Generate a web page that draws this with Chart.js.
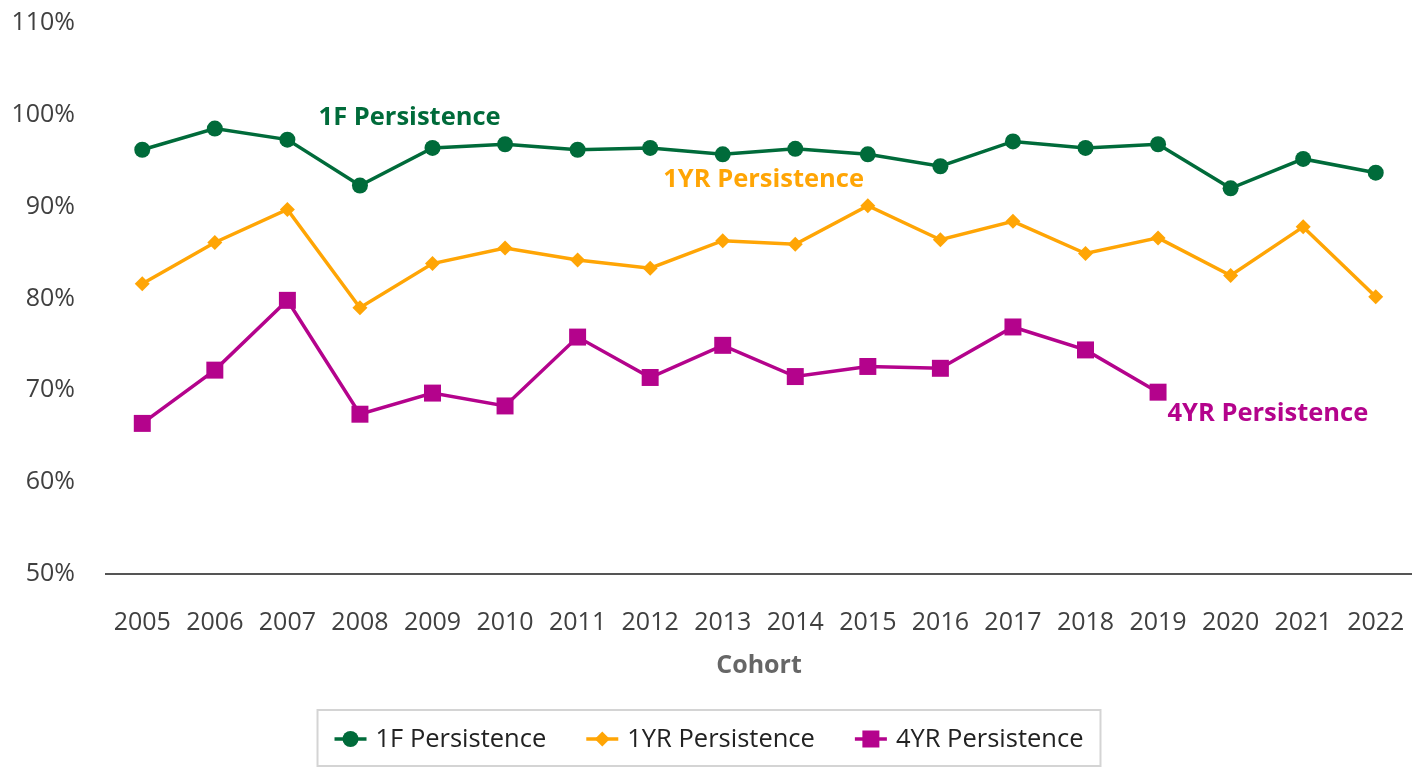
<!DOCTYPE html>
<html>
<head>
<meta charset="utf-8">
<script src="https://cdn.jsdelivr.net/npm/chart.js@4"></script>
<style>
  html, body { margin: 0; padding: 0; background: #fff; }
  #wrap { width: 1412px; height: 768px; position: relative; }
</style>
</head>
<body>
<div id="wrap"><canvas id="persistChart"></canvas></div>
<script>
// Cohort years
const cohorts = ['2005', '2006', '2007', '2008', '2009', '2010', '2011', '2012', '2013',
                 '2014', '2015', '2016', '2017', '2018', '2019', '2020', '2021', '2022'];

// Persistence rates (%)
const firstFall = [96.2, 98.5, 97.3, 92.3, 96.4, 96.8, 96.2, 96.4, 95.7,
                   96.3, 95.7, 94.4, 97.1, 96.4, 96.8, 92.0, 95.2, 93.7];
const oneYear = [81.6, 86.1, 89.7, 79.0, 83.8, 85.5, 84.2, 83.3, 86.3,
                 85.9, 90.1, 86.4, 88.4, 84.9, 86.6, 82.5, 87.8, 80.2];
const fourYear = [66.4, 72.2, 79.8, 67.4, 69.7, 68.3, 75.8, 71.4, 74.9,
                  71.5, 72.6, 72.4, 76.9, 74.4, 69.8, null, null, null];

const yTicks = [50, 60, 70, 80, 90, 100, 110];

const GREEN = '#006B3A';
const ORANGE = '#FFA505';
const MAGENTA = '#B4038C';
const FONT = '"Open Sans", sans-serif';

// in-chart series labels (x in category steps from the first cohort)
const seriesLabels = [
    { text: '1F Persistence', color: GREEN, x: 2.43, y: 99.7 },
    { text: '1YR Persistence', color: ORANGE, x: 7.18, y: 92.9 },
    { text: '4YR Persistence', color: MAGENTA, x: 14.13, y: 67.5 }
];

function drawMarker(ctx, shape, x, y) {
    ctx.beginPath();
    if (shape === 'circle') {
        ctx.arc(x, y, 8, 0, Math.PI * 2);
    } else if (shape === 'rectRot') {
        ctx.moveTo(x, y - 7.5); ctx.lineTo(x + 7.5, y); ctx.lineTo(x, y + 7.5); ctx.lineTo(x - 7.5, y); ctx.closePath();
    } else {
        ctx.rect(x - 8.5, y - 8.5, 17, 17);
    }
    ctx.fill();
}

const labelPlugin = {
    id: 'seriesLabels',
    afterDatasetsDraw(chart) {
        const ctx = chart.ctx;
        const xs = chart.scales.x, ys = chart.scales.y;
        const step = xs.getPixelForValue(1) - xs.getPixelForValue(0);
        ctx.save();
        ctx.font = 'bold 25.5px ' + FONT;
        ctx.textBaseline = 'middle';
        ctx.textAlign = 'left';
        seriesLabels.forEach(l => {
            ctx.fillStyle = l.color;
            ctx.fillText(l.text, xs.getPixelForValue(0) + l.x * step, ys.getPixelForValue(l.y));
        });
        ctx.restore();
    }
};

// legend drawn by hand: line + marker swatch, boxed
const boxedLegend = {
    id: 'boxedLegend',
    afterDraw(chart) {
        const ctx = chart.ctx;
        const sets = chart.data.datasets;
        ctx.save();
        ctx.font = '25.5px ' + FONT;
        const sw = 32, gap = 9, itemGap = 40, pad = 17;
        const widths = sets.map(ds => sw + gap + ctx.measureText(ds.label).width);
        const total = widths.reduce((a, b) => a + b, 0) + itemGap * (sets.length - 1);
        const left = chart.width / 2 - total / 2 + 3;
        const cy = 739;
        ctx.strokeStyle = '#d4d4d4';
        ctx.lineWidth = 2;
        ctx.strokeRect(left - pad, 710, total + pad * 2, 56);
        let x = left;
        sets.forEach((ds, i) => {
            ctx.strokeStyle = ds.borderColor;
            ctx.fillStyle = ds.borderColor;
            ctx.lineWidth = 3.5;
            ctx.beginPath(); ctx.moveTo(x, cy); ctx.lineTo(x + sw, cy); ctx.stroke();
            drawMarker(ctx, ds.pointStyle, x + sw / 2, cy);
            ctx.fillStyle = '#222';
            ctx.textBaseline = 'middle';
            ctx.fillText(ds.label, x + sw + gap, cy + 1);
            x += widths[i] + itemGap;
        });
        ctx.restore();
    }
};

new Chart(document.getElementById('persistChart'), {
    type: 'line',
    data: {
        labels: cohorts,
        datasets: [
            { label: '1F Persistence', data: firstFall, borderColor: GREEN, backgroundColor: GREEN,
              pointStyle: 'circle', pointRadius: 8 },
            { label: '1YR Persistence', data: oneYear, borderColor: ORANGE, backgroundColor: ORANGE,
              pointStyle: 'rectRot', pointRadius: 7.5 },
            { label: '4YR Persistence', data: fourYear, borderColor: MAGENTA, backgroundColor: MAGENTA,
              pointStyle: 'rect', pointRadius: 12 }
        ]
    },
    options: {
        responsive: true,
        maintainAspectRatio: false,
        animation: false,
        elements: {
            line: { borderWidth: 3.5, tension: 0 },
            point: { borderWidth: 0, hoverRadius: 8 }
        },
        layout: { autoPadding: false, padding: { top: 23, left: 0, right: 0, bottom: 0 } },
        scales: {
            x: {
                offset: true,
                grid: { display: false, drawTicks: false },
                border: { display: true, color: '#555', width: 2 },
                ticks: { color: '#404040', font: { family: FONT, size: 25 }, padding: 34, maxRotation: 0 },
                title: { display: true, text: 'Cohort', color: '#666',
                         font: { family: FONT, size: 25, weight: 'bold' }, padding: { top: 14, bottom: 87 } },
                afterFit(scale) {
                    scale.paddingLeft = 0;
                    scale.paddingRight = 0;
                    scale.height = 194;
                }
            },
            y: {
                min: 50, max: 110,
                afterBuildTicks(axis) { axis.ticks = yTicks.map(v => ({ value: v })); },
                grid: { display: false, drawTicks: false },
                border: { display: false },
                ticks: { color: '#404040', font: { family: FONT, size: 25 }, padding: 31,
                         callback: v => v + '%' },
                afterFit(scale) {
                    scale.paddingTop = 0;
                    scale.paddingBottom = 0;
                    scale.width = 106;
                }
            }
        },
        plugins: {
            tooltip: { enabled: false },
            legend: { display: false }
        }
    },
    plugins: [labelPlugin, boxedLegend]
});
</script>
</body>
</html>
